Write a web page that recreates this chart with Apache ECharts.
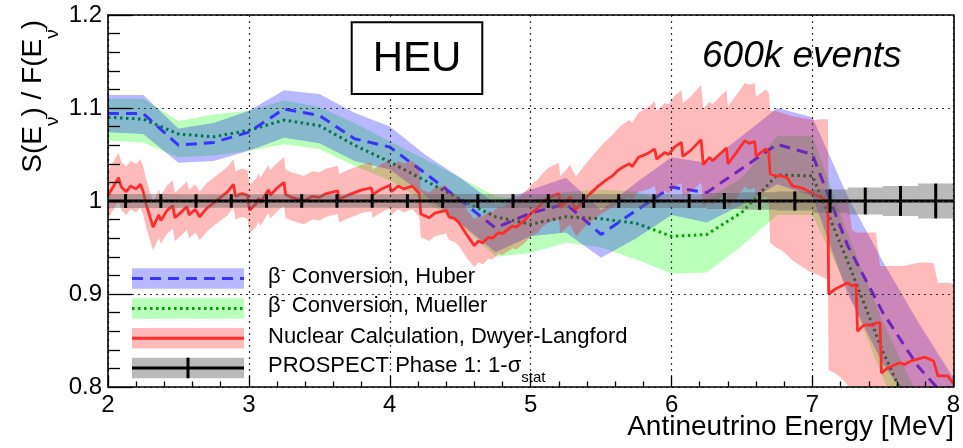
<!DOCTYPE html>
<html>
<head>
<meta charset="utf-8">
<script src="https://cdn.jsdelivr.net/npm/echarts@6/dist/echarts.min.js"></script>
<style>
  html, body { margin: 0; padding: 0; background: #fff; }
  #chart { width: 963px; height: 448px; }
</style>
</head>
<body>
<div id="chart"></div>
<script>
// ---- spectrum ratio data: S(E)/F(E) versus antineutrino energy [MeV] ----

// nodes of the conversion predictions
const energyNodes = [2.00, 2.25, 2.50, 2.75, 3.00, 3.25, 3.50, 3.75, 4.00, 4.25, 4.50, 4.75, 5.00,
                     5.25, 5.50, 5.75, 6.00, 6.25, 6.50, 6.75, 7.00, 7.25, 7.50, 7.75, 8.00];

// beta conversion, Huber: central ratio and uncertainty envelope
const huberRatio = [1.094, 1.094, 1.060, 1.063, 1.074, 1.099, 1.092, 1.067, 1.058, 1.030, 1.001, 0.971, 0.987,
                    0.997, 0.964, 0.990, 1.015, 1.009, 1.035, 1.061, 1.050, 0.952, 0.880, 0.822, 0.780];
const huberHigh  = [1.114, 1.114, 1.078, 1.084, 1.097, 1.119, 1.115, 1.095, 1.080, 1.050, 1.025, 0.997, 1.012,
                    1.025, 0.990, 1.020, 1.047, 1.041, 1.070, 1.100, 1.090, 1.005, 0.935, 0.870, 0.810];
const huberLow   = [1.074, 1.072, 1.041, 1.043, 1.054, 1.068, 1.062, 1.043, 1.034, 1.006, 0.976, 0.945, 0.962,
                    0.966, 0.939, 0.960, 0.985, 0.977, 0.996, 1.018, 1.005, 0.900, 0.825, 0.770, 0.720];

// beta conversion, Mueller
const muellerRatio = [1.090, 1.088, 1.072, 1.069, 1.076, 1.087, 1.081, 1.060, 1.042, 1.022, 1.002, 0.983, 0.975,
                      0.983, 0.981, 0.976, 0.962, 0.964, 0.988, 1.028, 1.027, 0.935, 0.838, 0.755, 0.690];
const muellerHigh  = [1.110, 1.110, 1.086, 1.093, 1.097, 1.108, 1.101, 1.084, 1.064, 1.045, 1.025, 1.005, 1.000,
                      1.010, 1.012, 1.010, 0.998, 1.002, 1.025, 1.070, 1.070, 0.965, 0.870, 0.790, 0.720];
const muellerLow   = [1.065, 1.063, 1.047, 1.049, 1.054, 1.061, 1.056, 1.038, 1.022, 1.000, 0.975, 0.940, 0.944,
                      0.955, 0.950, 0.937, 0.922, 0.923, 0.952, 0.985, 0.985, 0.905, 0.810, 0.730, 0.660];

// nuclear calculation, Dwyer-Langford: [energy, ratio, error down, error up]
const dwyerLangford = [
  [2.000, 1.006, .025, .027], [2.075, 1.025, .025, .027], [2.095, 1.015, .025, .027], [2.130, 1.010, .025, .027],
  [2.160, 1.016, .025, .027], [2.200, 1.013, .025, .027], [2.230, 1.018, .025, .027], [2.250, 1.010, .025, .027],
  [2.270, 0.997, .025, .027], [2.320, 0.972, .025, .027], [2.360, 0.985, .025, .027], [2.375, 0.979, .025, .027],
  [2.420, 0.990, .025, .027], [2.460, 0.995, .025, .027], [2.475, 0.982, .025, .027], [2.520, 0.988, .025, .027],
  [2.560, 0.994, .025, .027], [2.575, 0.985, .025, .027], [2.620, 0.991, .025, .027], [2.650, 0.983, .025, .027],
  [2.700, 0.992, .025, .027], [2.750, 0.998, .025, .027], [2.800, 1.004, .025, .027], [2.850, 1.010, .025, .027],
  [2.890, 1.018, .025, .027], [2.905, 1.005, .025, .027], [2.950, 1.008, .025, .027], [2.990, 1.006, .025, .027],
  [3.005, 0.990, .025, .027], [3.050, 0.997, .025, .027], [3.070, 1.003, .025, .027], [3.080, 0.998, .025, .027],
  [3.140, 1.012, .025, .027], [3.150, 1.006, .025, .027], [3.200, 1.014, .025, .027], [3.250, 1.020, .025, .027],
  [3.260, 1.007, .025, .027], [3.300, 1.004, .025, .027], [3.350, 1.002, .025, .027], [3.390, 1.000, .025, .027],
  [3.450, 1.005, .025, .027], [3.500, 1.004, .025, .027], [3.550, 1.008, .025, .027], [3.630, 1.011, .025, .027],
  [3.640, 1.002, .025, .027], [3.700, 1.006, .025, .027], [3.800, 1.012, .025, .027], [3.870, 1.014, .025, .027],
  [3.880, 1.007, .025, .027], [3.930, 1.012, .025, .027], [4.000, 1.017, .025, .027], [4.010, 1.010, .025, .027],
  [4.060, 1.016, .025, .027], [4.100, 1.013, .025, .027], [4.160, 1.016, .025, .027], [4.210, 1.008, .025, .027],
  [4.220, 0.986, .025, .027], [4.280, 0.982, .025, .027], [4.320, 0.987, .025, .027], [4.400, 0.990, .025, .027],
  [4.420, 0.983, .025, .027], [4.460, 0.981, .025, .027], [4.490, 0.977, .025, .027], [4.520, 0.970, .025, .027],
  [4.550, 0.963, .025, .027], [4.600, 0.952, .023, .028], [4.630, 0.957, .023, .028], [4.660, 0.955, .023, .028],
  [4.700, 0.961, .023, .028], [4.730, 0.960, .023, .028], [4.770, 0.966, .023, .028], [4.800, 0.965, .023, .028],
  [4.870, 0.973, .024, .029], [4.900, 0.972, .024, .029], [4.960, 0.980, .025, .030], [5.010, 0.988, .025, .030],
  [5.050, 0.992, .026, .031], [5.080, 0.998, .026, .031], [5.130, 1.004, .027, .032], [5.200, 1.008, .028, .033],
  [5.210, 0.993, .028, .034], [5.250, 0.999, .028, .034], [5.280, 1.004, .029, .035], [5.320, 0.991, .029, .035],
  [5.350, 0.996, .030, .036], [5.380, 1.002, .030, .036], [5.430, 1.009, .031, .038], [5.480, 1.016, .032, .040],
  [5.530, 1.022, .033, .042], [5.580, 1.027, .034, .044], [5.620, 1.033, .035, .045], [5.650, 1.036, .035, .046],
  [5.700, 1.040, .036, .047], [5.720, 1.037, .036, .047], [5.765, 1.047, .037, .048], [5.800, 1.049, .038, .049],
  [5.840, 1.052, .039, .050], [5.880, 1.056, .040, .051], [5.895, 1.045, .040, .052], [5.950, 1.052, .041, .053],
  [5.980, 1.050, .042, .054], [6.020, 1.058, .043, .055], [6.070, 1.063, .044, .056], [6.080, 1.048, .044, .057],
  [6.140, 1.055, .045, .058], [6.210, 1.066, .046, .059], [6.225, 1.039, .046, .060], [6.270, 1.047, .047, .060],
  [6.290, 1.043, .047, .061], [6.390, 1.057, .048, .062], [6.400, 1.040, .048, .062], [6.460, 1.052, .049, .062],
  [6.520, 1.065, .050, .062], [6.550, 1.062, .050, .063], [6.590, 1.064, .050, .063], [6.600, 1.048, .050, .064],
  [6.670, 1.056, .051, .064], [6.690, 1.052, .052, .064], [6.700, 1.029, .074, .068], [6.740, 1.027, .077, .070],
  [6.780, 1.027, .080, .068], [6.820, 1.025, .083, .068], [6.860, 1.016, .080, .075], [6.900, 1.015, .083, .075],
  [6.940, 1.013, .085, .076], [6.980, 1.010, .086, .078], [7.015, 1.007, .085, .080], [7.060, 1.004, .085, .084],
  [7.110, 1.000, .085, .088], [7.115, 0.900, .082, .100], [7.160, 0.905, .090, .097], [7.210, 0.909, .100, .093],
  [7.250, 0.912, .110, .090], [7.280, 0.909, .120, .060], [7.310, 0.910, .120, .056], [7.320, 0.860, .080, .106],
  [7.360, 0.866, .080, .100], [7.390, 0.867, .080, .099], [7.430, 0.866, .080, .100], [7.450, 0.869, .080, .097],
  [7.480, 0.869, .080, .061], [7.490, 0.815, .050, .115], [7.530, 0.820, .050, .110], [7.560, 0.822, .050, .108],
  [7.600, 0.825, .050, .105], [7.630, 0.826, .050, .104], [7.650, 0.824, .050, .106], [7.700, 0.828, .050, .104],
  [7.770, 0.831, .050, .103], [7.800, 0.832, .050, .102], [7.860, 0.828, .050, .105], [7.890, 0.812, .050, .100],
  [7.960, 0.812, .050, .100], [8.000, 0.804, .050, .107]
];

// PROSPECT phase 1 statistical uncertainty, 0.25 MeV bins
const prospectBinWidth = 0.25;
const prospectEnergy = [2.125, 2.375, 2.625, 2.875, 3.125, 3.375, 3.625, 3.875, 4.125, 4.375, 4.625, 4.875,
                        5.125, 5.375, 5.625, 5.875, 6.125, 6.375, 6.625, 6.875, 7.125, 7.375, 7.625, 7.875];
const prospectRatio  = [1, 1, 1, 1, 1, 1, 1, 1, 1, 1, 1, 1, 1, 1, 1, 1, 1, 1, 1, 1, 1, 1, 1, 1];
const prospectErr    = [0.0075, 0.0074, 0.0073, 0.0073, 0.0073, 0.0073, 0.0073, 0.0073, 0.0074, 0.0074, 0.0074, 0.0074,
                        0.0074, 0.0074, 0.0074, 0.0074, 0.0076, 0.0086, 0.0095, 0.0103, 0.0125, 0.0144, 0.0160, 0.0187];

// axis ranges and tick steps
const xRange = [2, 8], xStep = 1;
const yRange = [0.8, 1.2], yStep = 0.1;

// ---- styling ----
const FONT = 'Liberation Sans, Arial, Helvetica, sans-serif';
const C = {
  greenBand: 'rgba(0,255,0,0.27)',
  blueBand: 'rgba(0,0,255,0.28)',
  redBand: 'rgba(255,0,0,0.27)',
  greyBand: 'rgba(100,100,100,0.45)',
  greenLine: 'rgb(0,160,0)',
  blueLine: '#3535ff',
  redLine: 'rgb(255,45,45)',
  black: '#000'
};
const HUBER_DASH = [11, 7];
const MUELLER_DOT = [2.5, 3.5];

const chart = echarts.init(document.getElementById('chart'), null, { renderer: 'canvas' });

// filled envelope between an upper and a lower curve
function envelope(name, xs, hi, lo, fill, z) {
  return {
    type: 'custom', name, z, clip: true, silent: true,
    data: [[xs[0], hi[0]]],
    renderItem(params, api) {
      const pts = [];
      for (let i = 0; i < xs.length; i++) pts.push(api.coord([xs[i], hi[i]]));
      for (let i = xs.length - 1; i >= 0; i--) pts.push(api.coord([xs[i], lo[i]]));
      return { type: 'polygon', shape: { points: pts }, style: { fill } };
    }
  };
}

const redE = dwyerLangford.map(r => r[0]);
const redHi = dwyerLangford.map(r => r[1] + r[3]);
const redLo = dwyerLangford.map(r => r[1] - r[2]);

// stepped band of the statistical uncertainty
const statBand = {
  type: 'custom', name: 'stat band', z: 7, clip: true, silent: true,
  data: [[prospectEnergy[0], prospectRatio[0]]],
  renderItem(params, api) {
    const half = prospectBinWidth / 2;
    const top = [], bot = [];
    prospectEnergy.forEach((e, i) => {
      top.push(api.coord([e - half, prospectRatio[i] + prospectErr[i]]));
      top.push(api.coord([e + half, prospectRatio[i] + prospectErr[i]]));
      bot.push(api.coord([e - half, prospectRatio[i] - prospectErr[i]]));
      bot.push(api.coord([e + half, prospectRatio[i] - prospectErr[i]]));
    });
    return { type: 'polygon', shape: { points: top.concat(bot.reverse()) }, style: { fill: C.greyBand } };
  }
};

// central value across each bin plus its error bar
const statBars = {
  type: 'custom', name: 'stat', z: 8, clip: true, silent: true,
  encode: { x: 0, y: 1 },
  data: prospectEnergy.map((e, i) => [e, prospectRatio[i], prospectErr[i]]),
  renderItem(params, api) {
    const e = api.value(0), r = api.value(1), err = api.value(2);
    const half = prospectBinWidth / 2;
    const a = api.coord([e - half, r]), b = api.coord([e + half, r]);
    const t = api.coord([e, r + err]), d = api.coord([e, r - err]);
    return {
      type: 'group', children: [
        { type: 'line', shape: { x1: a[0], y1: a[1], x2: b[0], y2: b[1] }, style: { stroke: C.black, lineWidth: 3 } },
        { type: 'line', shape: { x1: t[0], y1: t[1], x2: d[0], y2: d[1] }, style: { stroke: C.black, lineWidth: 3 } }
      ]
    };
  }
};

const axisLineStyle = { color: C.black, width: 1.6 };
const gridLineStyle = { color: '#333', width: 1.2, type: [2, 4] };
const labelStyle = { color: C.black, fontSize: 24, fontFamily: FONT };

const option = {
  animation: false,
  grid: { left: 108, right: 7, top: 15, bottom: 61 },
  xAxis: [
    {
      type: 'value', min: xRange[0], max: xRange[1], interval: xStep, z: 10,
      axisLine: { show: true, onZero: false, lineStyle: axisLineStyle },
      axisTick: { show: true, inside: true, length: 11, lineStyle: { color: C.black, width: 1.3 } },
      minorTick: { show: true, splitNumber: 5, length: 5.5, lineStyle: { color: C.black, width: 1.3 } },
      axisLabel: Object.assign({ margin: 6 }, labelStyle),
      splitLine: { show: true, lineStyle: gridLineStyle }
    },
    {
      type: 'value', position: 'top', min: xRange[0], max: xRange[1], z: 10,
      axisLine: { show: true, onZero: false, lineStyle: axisLineStyle },
      axisTick: { show: false }, axisLabel: { show: false }, splitLine: { show: false }
    }
  ],
  yAxis: [
    {
      type: 'value', min: yRange[0], max: yRange[1], interval: yStep, z: 10,
      axisLine: { show: true, onZero: false, lineStyle: axisLineStyle },
      axisTick: { show: true, inside: true, length: 24, lineStyle: { color: C.black, width: 1.3 } },
      minorTick: { show: true, splitNumber: 5, length: 12, lineStyle: { color: C.black, width: 1.3 } },
      axisLabel: Object.assign({ margin: 6 }, labelStyle),
      splitLine: { show: true, lineStyle: gridLineStyle }
    },
    {
      type: 'value', position: 'right', min: yRange[0], max: yRange[1], z: 10,
      axisLine: { show: true, onZero: false, lineStyle: axisLineStyle },
      axisTick: { show: false }, axisLabel: { show: false }, splitLine: { show: false }
    }
  ],
  series: [
    envelope('Mueller band', energyNodes, muellerHigh, muellerLow, C.greenBand, 1),
    {
      type: 'line', name: 'Mueller', z: 2, silent: true, symbol: 'none',
      data: energyNodes.map((e, i) => [e, muellerRatio[i]]),
      lineStyle: { color: C.greenLine, width: 3, type: MUELLER_DOT }
    },
    envelope('Huber band', energyNodes, huberHigh, huberLow, C.blueBand, 3),
    {
      type: 'line', name: 'Huber', z: 4, silent: true, symbol: 'none',
      data: energyNodes.map((e, i) => [e, huberRatio[i]]),
      lineStyle: { color: C.blueLine, width: 3, type: HUBER_DASH }
    },
    envelope('Dwyer-Langford band', redE, redHi, redLo, C.redBand, 5),
    {
      type: 'line', name: 'Dwyer-Langford', z: 6, silent: true, symbol: 'none',
      data: dwyerLangford.map(r => [r[0], r[1]]),
      lineStyle: { color: C.redLine, width: 2.8 }
    },
    statBand,
    statBars
  ],
  graphic: buildAnnotations()
};

function buildAnnotations() {
  const els = [];
  // legend: filled patch with the series line drawn through it
  const lx0 = 132, lx1 = 244, ph = 20.5;
  const rows = [
    { top: 268.3, fill: C.blueBand, stroke: C.blueLine, dash: HUBER_DASH, textY: 276.7,
      text: '{m|β}{p|-}{m| Conversion, Huber}' },
    { top: 298.3, fill: C.greenBand, stroke: C.greenLine, dash: MUELLER_DOT, textY: 306.3,
      text: '{m|β}{p|-}{m| Conversion, Mueller}' },
    { top: 328.0, fill: C.redBand, stroke: C.redLine, dash: null, textY: 336.7,
      text: '{m|Nuclear Calculation, Dwyer-Langford}' },
    { top: 357.7, fill: C.greyBand, stroke: C.black, dash: null, textY: 365.5, tick: true,
      text: '{m|PROSPECT Phase 1: 1-σ}{b|stat}' }
  ];
  rows.forEach(r => {
    const cy = r.top + ph / 2;
    els.push({ type: 'rect', z: 20, shape: { x: lx0, y: r.top, width: lx1 - lx0, height: ph }, style: { fill: r.fill } });
    els.push({ type: 'line', z: 21, shape: { x1: lx0, y1: cy, x2: lx1, y2: cy },
      style: { stroke: r.stroke, lineWidth: 3, lineDash: r.dash || null } });
    if (r.tick) {
      els.push({ type: 'line', z: 21, shape: { x1: 188, y1: r.top, x2: 188, y2: r.top + ph },
        style: { stroke: C.black, lineWidth: 3 } });
    }
    els.push({
      type: 'text', z: 21, x: 268, y: r.textY,
      style: {
        text: r.text, fill: C.black, align: 'left', verticalAlign: 'middle',
        rich: {
          m: { fontSize: 22, fontFamily: FONT, fill: C.black, lineHeight: 26, verticalAlign: 'middle' },
          p: { fontSize: 15, fontFamily: FONT, fill: C.black, lineHeight: 12, verticalAlign: 'top' },
          b: { fontSize: 15, fontFamily: FONT, fill: C.black, lineHeight: 40, verticalAlign: 'bottom' }
        }
      }
    });
  });

  // boxed label and event count
  els.push({ type: 'rect', z: 20, shape: { x: 351.7, y: 22.3, width: 130.6, height: 71.7 },
    style: { fill: '#fff', stroke: C.black, lineWidth: 2 } });
  els.push({ type: 'text', z: 21, x: 417, y: 59.5,
    style: { text: 'HEU', fontSize: 42, fontFamily: FONT, fill: C.black, align: 'center', verticalAlign: 'middle' } });
  els.push({ type: 'text', z: 21, x: 702, y: 57,
    style: { text: '600k events', fontSize: 37, fontStyle: 'italic', fontFamily: FONT, fill: C.black,
      align: 'left', verticalAlign: 'middle' } });

  // axis titles
  els.push({ type: 'text', z: 21, x: 954, y: 427,
    style: { text: 'Antineutrino Energy [MeV]', fontSize: 28, fontFamily: FONT, fill: C.black,
      align: 'right', verticalAlign: 'middle' } });
  els.push({
    type: 'text', z: 21, x: 33, y: 20, rotation: Math.PI / 2,
    style: {
      text: '{m|S(E}{s|ν̄}{m|) / F(E}{s|ν̄}{m|)}', align: 'right', verticalAlign: 'middle',
      rich: {
        m: { fontSize: 28, fontFamily: FONT, fill: C.black, lineHeight: 32, verticalAlign: 'middle' },
        s: { fontSize: 19, fontFamily: FONT, fill: C.black, lineHeight: 58, verticalAlign: 'bottom' }
      }
    }
  });
  return els;
}

chart.setOption(option);
</script>
</body>
</html>
